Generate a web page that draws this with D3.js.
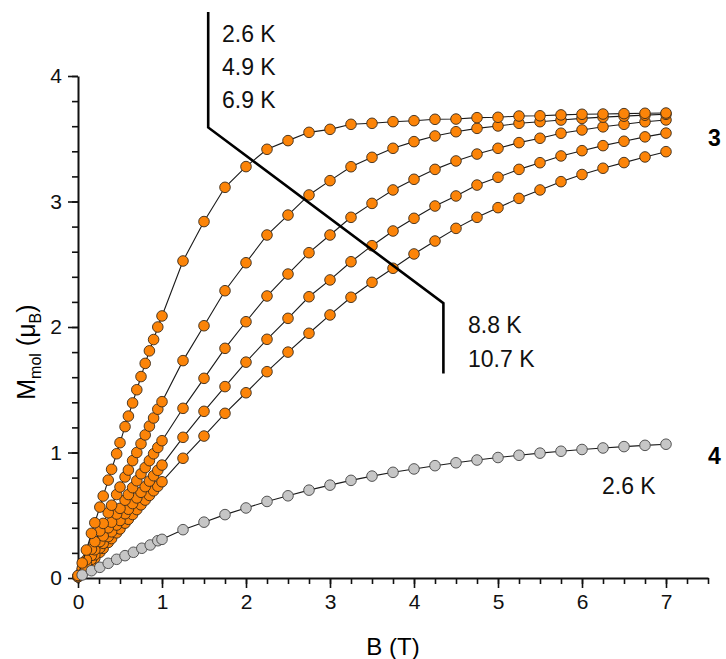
<!DOCTYPE html>
<html>
<head>
<meta charset="utf-8">
<script src="https://cdn.jsdelivr.net/npm/d3@7"></script>
<style>
  body { margin: 0; background: #fff; }
  text { font-family: "Liberation Sans", Arial, sans-serif; }
</style>
</head>
<body>
<div id="chart_div"></div>
<script>
// field values (T): low-field sweep 0..1 T, then 0.25 T steps up to 7 T
const lowField = [0, 0.05, 0.1, 0.16, 0.2, 0.26, 0.3, 0.36, 0.4, 0.46, 0.5, 0.56, 0.6, 0.65, 0.7, 0.75, 0.8, 0.85, 0.9, 0.95, 1.0];
const highField = [1.25, 1.5, 1.75, 2.0, 2.25, 2.5, 2.75, 3.0, 3.25, 3.5, 3.75, 4.0, 4.25, 4.5, 4.75, 5.0, 5.25, 5.5, 5.75, 6.0, 6.25, 6.5, 6.75, 7.0];

// compound 3, M (muB)
const m3_2_6K_low = [0.02, 0.12, 0.223, 0.356, 0.44, 0.565, 0.653, 0.78, 0.866, 0.99, 1.078, 1.206, 1.29, 1.395, 1.50, 1.605, 1.71, 1.81, 1.90, 2.0, 2.088];
const m3_2_6K_high = [2.526, 2.84, 3.113, 3.278, 3.416, 3.485, 3.551, 3.575, 3.615, 3.623, 3.636, 3.644, 3.655, 3.657, 3.668, 3.671, 3.681, 3.683, 3.69, 3.695, 3.697, 3.70, 3.703, 3.705];

const m3_4_9K_low = [0.01, 0.075, 0.145, 0.23, 0.29, 0.375, 0.435, 0.52, 0.58, 0.665, 0.725, 0.805, 0.86, 0.935, 1.0, 1.07, 1.14, 1.21, 1.275, 1.345, 1.405];
const m3_4_9K_high = [1.732, 2.01, 2.289, 2.512, 2.733, 2.892, 3.052, 3.166, 3.277, 3.352, 3.424, 3.477, 3.522, 3.556, 3.583, 3.602, 3.623, 3.636, 3.649, 3.662, 3.672, 3.68, 3.688, 3.695];

const m3_6_9K_low = [0.01, 0.06, 0.115, 0.18, 0.225, 0.29, 0.335, 0.40, 0.445, 0.51, 0.555, 0.62, 0.665, 0.72, 0.775, 0.83, 0.88, 0.935, 0.99, 1.04, 1.094];
const m3_6_9K_high = [1.352, 1.591, 1.83, 2.042, 2.247, 2.422, 2.592, 2.733, 2.874, 2.985, 3.092, 3.177, 3.256, 3.323, 3.378, 3.424, 3.469, 3.504, 3.544, 3.57, 3.595, 3.615, 3.635, 3.65];

const m3_8_8K_low = [0.01, 0.05, 0.095, 0.148, 0.185, 0.24, 0.276, 0.33, 0.368, 0.422, 0.458, 0.512, 0.548, 0.593, 0.638, 0.683, 0.728, 0.772, 0.815, 0.858, 0.90];
const m3_8_8K_high = [1.121, 1.328, 1.525, 1.72, 1.902, 2.069, 2.241, 2.375, 2.52, 2.648, 2.765, 2.866, 2.964, 3.044, 3.131, 3.193, 3.256, 3.309, 3.363, 3.405, 3.445, 3.48, 3.515, 3.545];

const m3_10_7K_low = [0.01, 0.045, 0.083, 0.127, 0.158, 0.205, 0.236, 0.283, 0.314, 0.36, 0.391, 0.437, 0.468, 0.506, 0.545, 0.583, 0.621, 0.658, 0.695, 0.731, 0.767];
const m3_10_7K_high = [0.954, 1.131, 1.312, 1.476, 1.644, 1.80, 1.95, 2.096, 2.237, 2.356, 2.468, 2.582, 2.685, 2.786, 2.874, 2.951, 3.025, 3.092, 3.158, 3.215, 3.265, 3.31, 3.355, 3.397];

// compound 4 at 2.6 K
const field4_low = [0.05, 0.16, 0.26, 0.36, 0.46, 0.56, 0.66, 0.76, 0.86, 0.95, 1.0];
const m4_2_6K_low = [0.024, 0.058, 0.085, 0.117, 0.149, 0.178, 0.205, 0.237, 0.263, 0.297, 0.308];
const m4_2_6K_high = [0.385, 0.445, 0.505, 0.558, 0.61, 0.655, 0.70, 0.74, 0.778, 0.812, 0.842, 0.869, 0.895, 0.918, 0.94, 0.96, 0.978, 0.995, 1.01, 1.024, 1.036, 1.047, 1.057, 1.066];

const xTicks = [0, 1, 2, 3, 4, 5, 6, 7];
const yTicks = [0, 1, 2, 3, 4];

// temperature bracket drawn across the curves (data units)
const bracketB = [1.55, 1.55, 4.35, 4.35];
const bracketM = [4.51, 3.59, 2.19, 1.63];

function zipSeries(fields, values) {
    return fields.map(function(b, i) { return {b: b, m: values[i]}; });
}

const series3 = [
    zipSeries(lowField.concat(highField), m3_10_7K_low.concat(m3_10_7K_high)),
    zipSeries(lowField.concat(highField), m3_8_8K_low.concat(m3_8_8K_high)),
    zipSeries(lowField.concat(highField), m3_6_9K_low.concat(m3_6_9K_high)),
    zipSeries(lowField.concat(highField), m3_4_9K_low.concat(m3_4_9K_high)),
    zipSeries(lowField.concat(highField), m3_2_6K_low.concat(m3_2_6K_high))
];
const series4 = zipSeries(field4_low.concat(highField), m4_2_6K_low.concat(m4_2_6K_high));

const width = 726, height = 659;
const margin = {top: 76, right: 18, bottom: 81, left: 78};

const svg = d3.select("#chart_div")
    .append("svg")
    .attr("width", width)
    .attr("height", height);

const xScale = d3.scaleLinear().domain([0, 7.5]).range([margin.left, width - margin.right]);
const yScale = d3.scaleLinear().domain([0, 4]).range([height - margin.bottom, margin.top]);

// minor ticks first, then major with labels
svg.append("g")
    .attr("transform", "translate(0," + yScale(0) + ")")
    .call(d3.axisBottom(xScale).tickValues(d3.range(0, 7.51, 0.25)).tickSize(6).tickFormat(""))
    .call(g => g.select(".domain").remove());
svg.append("g")
    .attr("transform", "translate(" + xScale(0) + ",0)")
    .call(d3.axisLeft(yScale).tickValues(d3.range(0, 4.01, 0.2)).tickSize(6).tickFormat(""))
    .call(g => g.select(".domain").remove());

const xAxis = svg.append("g")
    .attr("transform", "translate(0," + yScale(0) + ")")
    .call(d3.axisBottom(xScale).tickValues(xTicks).tickSize(10).tickSizeOuter(0).tickPadding(6).tickFormat(d3.format("d")));
const yAxis = svg.append("g")
    .attr("transform", "translate(" + xScale(0) + ",0)")
    .call(d3.axisLeft(yScale).tickValues(yTicks).tickSize(10).tickSizeOuter(0).tickPadding(6).tickFormat(d3.format("d")));

svg.selectAll(".tick line").attr("stroke", "#111").attr("stroke-width", 1.6);
svg.selectAll(".domain").attr("stroke", "#111").attr("stroke-width", 2);
svg.selectAll(".tick text")
    .attr("fill", "#111")
    .style("font-size", "21px")
    .style("font-family", "Liberation Sans, Arial, sans-serif");

// axis titles
svg.append("text")
    .attr("x", xScale(3.75))
    .attr("y", 655)
    .attr("text-anchor", "middle")
    .style("font-size", "24px")
    .text("B (T)");

const yTitle = svg.append("text")
    .attr("transform", "translate(35," + yScale(1.8) + ") rotate(-90)")
    .attr("text-anchor", "middle")
    .style("font-size", "25px");
yTitle.append("tspan").text("M");
yTitle.append("tspan").attr("dy", 6).style("font-size", "16px").text("mol");
yTitle.append("tspan").attr("dy", -6).text(" (\u03bc");
yTitle.append("tspan").attr("dy", 6).style("font-size", "16px").text("B");
yTitle.append("tspan").attr("dy", -6).text(")");

const line = d3.line()
    .x(function(d) { return xScale(d.b); })
    .y(function(d) { return yScale(d.m); });

function drawSeries(data, fill, stroke) {
    svg.append("path")
        .datum(data)
        .attr("fill", "none")
        .attr("stroke", "#1a1a1a")
        .attr("stroke-width", 1.1)
        .attr("d", line);

    svg.append("g")
        .selectAll("circle")
        .data(data)
        .enter()
        .append("circle")
        .attr("cx", function(d) { return xScale(d.b); })
        .attr("cy", function(d) { return yScale(d.m); })
        .attr("r", 5.3)
        .attr("fill", fill)
        .attr("stroke", stroke)
        .attr("stroke-width", 0.9);
}

for (let i = 0; i < series3.length; i++) {
    drawSeries(series3[i], "#fc8408", "#3a2a1a");
}
drawSeries(series4, "#c6c6c6", "#444");

// bracket
svg.append("path")
    .datum(bracketB.map(function(b, i) { return {b: b, m: bracketM[i]}; }))
    .attr("fill", "none")
    .attr("stroke", "#000")
    .attr("stroke-width", 2.6)
    .attr("d", line);

// labels
const labels = [
    {t: "2.6 K", x: 222, y: 42},
    {t: "4.9 K", x: 222, y: 75},
    {t: "6.9 K", x: 222, y: 108},
    {t: "8.8 K", x: 468, y: 333},
    {t: "10.7 K", x: 468, y: 367},
    {t: "2.6 K", x: 602, y: 494}
];
svg.selectAll(".tlabel")
    .data(labels)
    .enter()
    .append("text")
    .attr("x", d => d.x)
    .attr("y", d => d.y)
    .style("font-size", "23px")
    .attr("fill", "#111")
    .text(d => d.t);

svg.append("text").attr("x", 708).attr("y", 146).style("font-size", "23px").style("font-weight", "bold").text("3");
svg.append("text").attr("x", 708).attr("y", 464).style("font-size", "23px").style("font-weight", "bold").text("4");
</script>
</body>
</html>
